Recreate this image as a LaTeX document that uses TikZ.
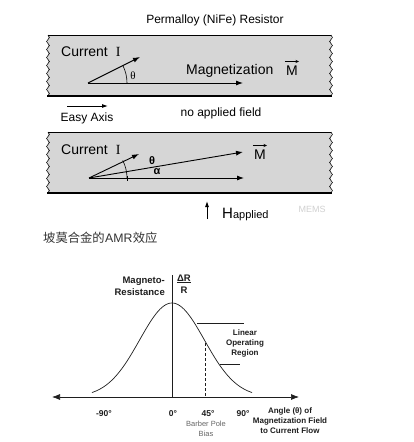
\documentclass[tikz,border=0pt]{standalone}
\usepackage{fontspec}
\setmainfont{Liberation Sans}
\newfontfamily\serifI{Liberation Serif}
\newfontfamily\cjk{Noto Sans CJK SC}
\usetikzlibrary{arrows.meta,decorations.pathmorphing}
\definecolor{stripgray}{HTML}{D6D6D6}
\definecolor{capgray}{HTML}{333333}
\definecolor{chartink}{HTML}{1E1E1E}
\tikzset{
  wavyedge/.style={decorate,decoration={snake,amplitude=1.4pt,segment length=8pt},line width=0.6pt},
  vecarrow/.style={-{Latex[length=7pt,width=5pt]},line width=0.9pt},
  smallvec/.style={-{Stealth[length=3.5pt,width=3pt]},line width=0.6pt},
  lbl/.style={inner sep=0pt,font=\fontsize{12}{14}\selectfont},
  biglbl/.style={inner sep=0pt,font=\fontsize{14}{16}\selectfont},
  chartlbl/.style={inner sep=0pt,text=chartink,font=\bfseries\fontsize{8}{10}\selectfont,align=center},
}
\begin{document}
\begin{tikzpicture}[x=1pt,y=-1pt]
\useasboundingbox (0,0) rectangle (413,442);
\fill[white] (0,0) rectangle (413,442);

% ---------- strip 1 ----------
\node[lbl] (title) at (215,20) {Permalloy (NiFe) Resistor};
\fill[stripgray] (48,35) rectangle (331,96);
\draw[line width=0.6pt] (48,35) -- (331,35);
\draw[line width=2.2pt] (47,96) -- (332,96);
\draw[wavyedge] (48,35) -- (48,96);
\draw[wavyedge] (331,35) -- (331,96);

\node[biglbl,anchor=west] (cur1) at (61,52) {Current\hspace{8pt}{\serifI I}};
\coordinate (o1) at (88,83);
\coordinate (i1) at (140,57);
\coordinate (m1) at (243,83);
\draw[vecarrow] (o1) -- (i1);
\draw[vecarrow] (o1) -- (m1);
\draw[line width=0.6pt] (o1) ++(0:39) arc[start angle=0,end angle=-26.6,radius=39];
\node[inner sep=0pt,font=\serifI\fontsize{11}{12}\selectfont] (th1) at (133,76) {θ};
\node[biglbl,anchor=west] (mag1) at (186,71) {Magnetization};
\node[biglbl] (M1) at (292,71) {M};
\draw[smallvec] ([xshift=-1pt,yshift=4.5pt]M1.north west) -- ([xshift=1pt,yshift=4.5pt]M1.north east);
\coordinate (ea0) at (67,106);
\coordinate (ea1) at (108,106);
\draw[-{Latex[length=6pt,width=4pt]},line width=0.9pt] (ea0) -- (ea1);
\node[lbl] (easy) at (87,118) {Easy Axis};
\node[lbl] (noapp) at (221,113) {no applied field};

% ---------- strip 2 ----------
\fill[stripgray] (48,132) rectangle (331,193);
\draw[line width=0.6pt] (48,132) -- (331,132);
\draw[line width=2.2pt] (47,193) -- (332,193);
\draw[wavyedge] (48,132) -- (48,193);
\draw[wavyedge] (331,132) -- (331,193);

\node[biglbl,anchor=west] (cur2) at (61,150) {Current\hspace{8pt}{\serifI I}};
\coordinate (o2) at (89,178);
\coordinate (i2) at (139,154);
\coordinate (m2) at (243,152);
\coordinate (h2) at (244,178);
\draw[vecarrow] (o2) -- (i2);
\draw[vecarrow] (o2) -- (m2);
\draw[vecarrow] (o2) -- (h2);
\draw[line width=0.6pt] (o2) ++(0:38) arc[start angle=0,end angle=-27.5,radius=38];
\draw[line width=0.6pt] (127,175.5) -- (127,180.5);
\node[inner sep=0pt,font=\bfseries\fontsize{11}{12}\selectfont] (th2) at (152,161) {θ};
\node[inner sep=0pt,font=\bfseries\fontsize{11}{12}\selectfont] (al2) at (157,172) {α};
\node[biglbl] (M2) at (260,155) {M};
\draw[smallvec] ([xshift=-1pt,yshift=4.5pt]M2.north west) -- ([xshift=1pt,yshift=4.5pt]M2.north east);
\coordinate (hb) at (207,219);
\coordinate (ht) at (207,201);
\draw[-{Latex[length=6pt,width=4pt]},line width=0.9pt] (hb) -- (ht);
\node[inner sep=0pt,anchor=base west] (happ) at (222,218) {\fontsize{15}{16}\selectfont H\fontsize{11}{12}\selectfont applied};
\node[inner sep=0pt,text=black!18,font=\fontsize{9}{10}\selectfont] (mems) at (312,209) {MEMS};

\node[inner sep=0pt,anchor=west,text=capgray,font=\fontsize{12.3}{14}\selectfont] (cap) at (43,238) {\cjk 坡莫合金的};
\node[inner sep=0pt,anchor=west,text=capgray,font=\fontsize{12.3}{14}\selectfont] (cap2) at (cap.east) {AMR};
\node[inner sep=0pt,anchor=west,text=capgray,font=\fontsize{12.3}{14}\selectfont] (cap3) at (cap2.east) {\cjk 效应};

% ---------- chart ----------
\coordinate (xl) at (52,397);
\coordinate (xr) at (299,397);
\coordinate (yt) at (172,275);
\coordinate (yb) at (172,397);
\draw[{Latex[length=8pt,width=6pt]}-{Latex[length=8pt,width=6pt]},line width=0.7pt,chartink] (xl) -- (xr);
\draw[line width=0.7pt,chartink] (yt) -- (yb);
\draw[line width=0.7pt,chartink] plot[domain=-80:80,samples=81,smooth] ({172+\x},{397-94*exp(-(\x*\x)/(2*1050))});
\coordinate (d0) at (205,343);
\coordinate (d1) at (205,397);
\draw[line width=0.7pt,chartink,dash pattern=on 3pt off 2pt] (d0) -- (d1);
\coordinate (u0) at (197,323);
\coordinate (u1) at (244,323);
\coordinate (l0) at (220,364);
\coordinate (l1) at (240,364);
\draw[line width=0.7pt,chartink] (u0) -- (u1);
\draw[line width=0.7pt,chartink] (l0) -- (l1);

\node[chartlbl,anchor=east,align=right,font=\bfseries\fontsize{9.5}{12}\selectfont] (mr) at (165,286) {Magneto-\\Resistance};
\node[chartlbl,font=\bfseries\fontsize{9.5}{11}\selectfont] (dr) at (184,284) {\underline{ΔR}\\[1pt]R};
\node[chartlbl] (lin) at (245,343) {Linear\\Operating\\Region};
\node[chartlbl,font=\bfseries\fontsize{8.5}{10}\selectfont] (n90) at (104,414) {-90°};
\node[chartlbl,font=\bfseries\fontsize{8.5}{10}\selectfont] (z0) at (173,414) {0°};
\node[chartlbl,font=\bfseries\fontsize{8.5}{10}\selectfont] (p45) at (208,414) {45°};
\node[chartlbl,font=\bfseries\fontsize{8.5}{10}\selectfont] (p90) at (243,414) {90°};
\node[inner sep=0pt,text=black!60,align=center,font=\fontsize{7.5}{10}\selectfont] (bpb) at (206,429) {Barber Pole\\Bias};
\node[chartlbl] (ang) at (290,421) {Angle (θ) of\\Magnetization Field\\to Current Flow};
\end{tikzpicture}
\end{document}
